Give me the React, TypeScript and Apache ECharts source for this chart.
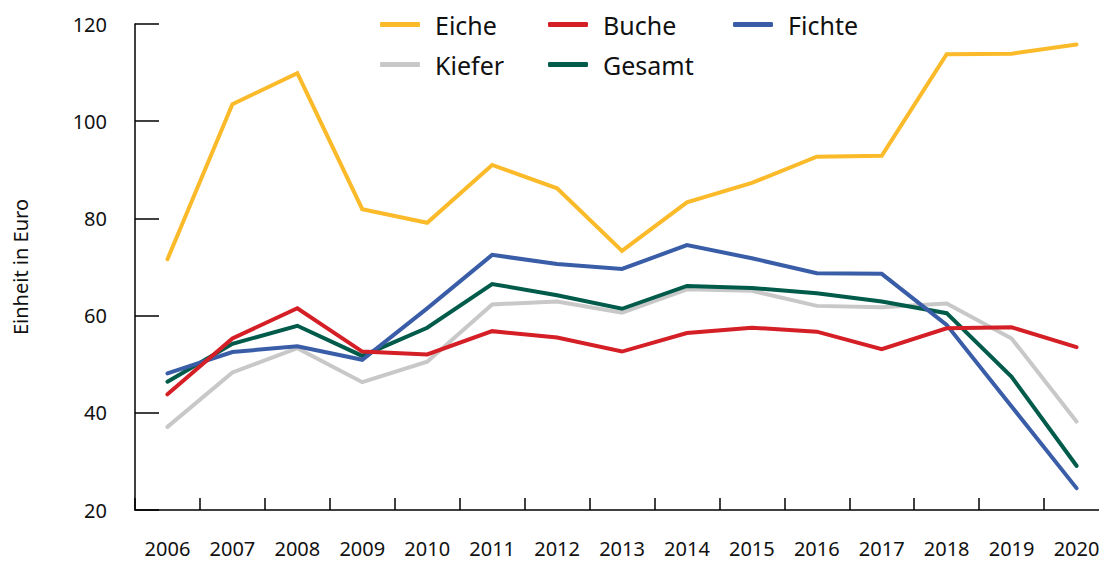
import React, { useEffect, useRef } from 'react';
import * as echarts from 'echarts';

const years = ['2006', '2007', '2008', '2009', '2010', '2011', '2012', '2013', '2014', '2015', '2016', '2017', '2018', '2019', '2020'];
const eiche = [71.6, 103.5, 109.9, 81.9, 79.1, 91.0, 86.2, 73.3, 83.3, 87.3, 92.7, 92.9, 113.8, 113.9, 115.8];
const buche = [43.8, 55.3, 61.5, 52.6, 52.0, 56.8, 55.5, 52.6, 56.4, 57.5, 56.7, 53.1, 57.4, 57.6, 53.5];
const fichte = [48.1, 52.5, 53.7, 50.9, 61.5, 72.5, 70.6, 69.6, 74.5, 71.8, 68.7, 68.6, 58.1, 41.3, 24.5];
const kiefer = [37.1, 48.3, 53.3, 46.3, 50.5, 62.3, 62.9, 60.6, 65.4, 65.1, 62.0, 61.7, 62.5, 55.3, 38.2];
const gesamt = [46.4, 54.2, 57.9, 51.7, 57.5, 66.5, 64.2, 61.4, 66.1, 65.7, 64.6, 62.9, 60.5, 47.4, 29.1];

const yMin = 20;
const yMax = 120;
const yStep = 20;

const FONT = '"Noto Sans", sans-serif';
const TEXT = '#111111';

const COLORS: Record<string, string> = {
  Eiche: '#FBBA2A',
  Buche: '#D51F26',
  Fichte: '#3A5DA8',
  Kiefer: '#C8C8C8',
  Gesamt: '#005B4A',
};

export default function App() {
  const ref = useRef<HTMLDivElement>(null);

  useEffect(() => {
    if (!ref.current) return;
    const chart = echarts.init(ref.current, undefined, { renderer: 'svg' });

    const mkSeries = (name: string, data: number[], z: number) => ({
      name,
      type: 'line',
      data,
      symbol: 'none',
      z,
      lineStyle: { width: 4, color: COLORS[name], cap: 'round', join: 'miter' },
      itemStyle: { color: COLORS[name] },
    });

    const legendBase = {
      orient: 'vertical',
      top: 12,
      padding: 0,
      itemWidth: 40,
      itemHeight: 5,
      itemGap: 15,
      icon: 'roundRect',
      selectedMode: false,
      textStyle: {
        fontSize: 25,
        lineHeight: 25,
        color: TEXT,
        fontFamily: FONT,
        padding: [0, 0, 0, 10],
      },
    };

    chart.setOption({
      animation: false,
      backgroundColor: '#ffffff',
      grid: {
        left: 135,
        width: 974,
        top: 24,
        bottom: 51,
        containLabel: false,
        outerBoundsMode: 'none',
      },
      legend: [
        { ...legendBase, left: 380, data: ['Eiche', 'Kiefer'] },
        { ...legendBase, left: 548, data: ['Buche', 'Gesamt'] },
        { ...legendBase, left: 733, data: ['Fichte'] },
      ],
      xAxis: {
        type: 'category',
        data: years,
        boundaryGap: true,
        axisLine: { show: true, lineStyle: { color: '#000', width: 1.5 } },
        axisTick: { show: true, inside: true, length: 12, lineStyle: { color: '#000', width: 1.5 } },
        axisLabel: {
          margin: 28,
          fontSize: 20,
          color: TEXT,
          fontFamily: FONT,
          interval: 0,
        },
        splitLine: { show: false },
      },
      yAxis: {
        type: 'value',
        min: yMin,
        max: yMax,
        interval: yStep,
        name: 'Einheit in Euro',
        nameLocation: 'middle',
        nameGap: 105,
        nameRotate: 90,
        nameTextStyle: { fontSize: 20, color: TEXT, fontFamily: FONT },
        axisLine: { show: true, lineStyle: { color: '#000', width: 1.5 } },
        axisTick: { show: true, inside: true, length: 24, lineStyle: { color: '#000', width: 1.5 } },
        axisLabel: { margin: 28, fontSize: 20, color: TEXT, fontFamily: FONT },
        splitLine: { show: false },
      },
      series: [
        mkSeries('Kiefer', kiefer, 1),
        mkSeries('Gesamt', gesamt, 2),
        mkSeries('Fichte', fichte, 3),
        mkSeries('Buche', buche, 4),
        mkSeries('Eiche', eiche, 5),
      ],
    });

    return () => chart.dispose();
  }, []);

  return (
    <div
      ref={ref}
      style={{ position: 'fixed', left: 0, top: 0, width: 1099, height: 561, background: '#fff' }}
    />
  );
}
